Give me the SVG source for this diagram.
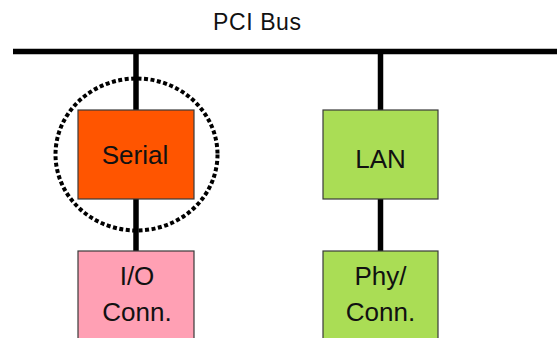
<svg xmlns="http://www.w3.org/2000/svg" width="557" height="338" viewBox="0 0 557 338">
<style>
.box{stroke:#3a3a3a;stroke-width:1.2}
.wire{stroke:#000;stroke-width:5.5;fill:none}
.lbl{font-family:"Liberation Sans",Arial,sans-serif;font-size:26px;fill:#111;text-anchor:middle}
.title{font-family:"Liberation Sans",Arial,sans-serif;font-size:23px;fill:#111;text-anchor:middle}
</style>
<rect width="557" height="338" fill="#fff"/>
<text class="title" x="257" y="30" textLength="88" lengthAdjust="spacing">PCI Bus</text>
<g id="connectors">
<line class="wire" x1="13" y1="51.5" x2="557" y2="51.5"/>
<line class="wire" x1="136" y1="51" x2="136" y2="110"/>
<line class="wire" x1="136" y1="199" x2="136" y2="251"/>
<line class="wire" x1="380.5" y1="51" x2="380.5" y2="110"/>
<line class="wire" x1="380.5" y1="199" x2="380.5" y2="251"/>
</g>
<g id="serial">
<rect class="box" x="78" y="110" width="116" height="89" fill="#FF5500"/>
<text class="lbl" x="135" y="164">Serial</text>
</g>
<g id="highlight">
<ellipse cx="136.5" cy="154.5" rx="81" ry="76" fill="none" stroke="#000" stroke-width="4" stroke-dasharray="4 2.5"/>
</g>
<g id="lan">
<rect class="box" x="323" y="110" width="115" height="89" fill="#AADD55"/>
<text class="lbl" x="380.5" y="168">LAN</text>
</g>
<g id="io">
<rect class="box" x="78" y="251" width="116" height="100" fill="#FFA0B4"/>
<text class="lbl" x="137" y="285">I/O</text>
<text class="lbl" x="137" y="321">Conn.</text>
</g>
<g id="phy">
<rect class="box" x="323" y="251" width="115" height="100" fill="#AADD55"/>
<text class="lbl" x="380.5" y="285">Phy/</text>
<text class="lbl" x="380.5" y="321">Conn.</text>
</g>
</svg>
